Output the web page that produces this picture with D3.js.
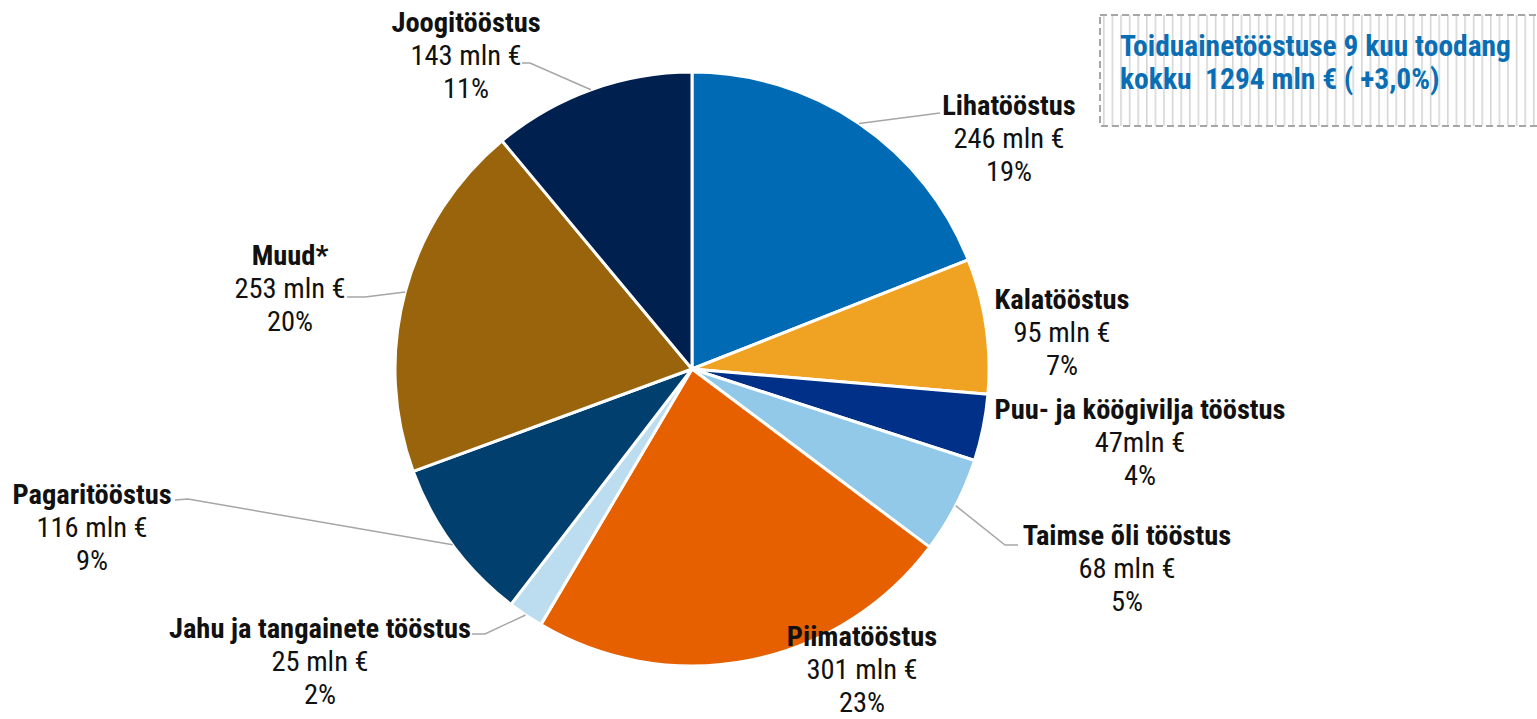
<!DOCTYPE html>
<html>
<head>
<meta charset="utf-8">
<script src="https://cdn.jsdelivr.net/npm/d3@7"></script>
<style>
  body { margin: 0; background: #fff; }
  text { font-family: "Roboto Condensed", Roboto, sans-serif; fill: #111; }
</style>
</head>
<body>
<script>
// data
var names = ["Lihatööstus", "Kalatööstus", "Puu- ja köögivilja tööstus", "Taimse õli tööstus",
             "Piimatööstus", "Jahu ja tangainete tööstus", "Pagaritööstus", "Muud*", "Joogitööstus"];
var values = [246, 95, 47, 68, 301, 25, 116, 253, 143];
var valueLabels = ["246 mln €", "95 mln €", "47mln €", "68 mln €", "301 mln €", "25 mln €", "116 mln €", "253 mln €", "143 mln €"];
var pctLabels = ["19%", "7%", "4%", "5%", "23%", "2%", "9%", "20%", "11%"];
var colors = ["#006bb4", "#f0a323", "#003087", "#93c9e8", "#e66000", "#bcdcf0", "#003f6e", "#9a640c", "#00204f"];
var titleLines = ["Toiduainetööstuse 9 kuu toodang", "kokku  1294 mln € ( +3,0%)"];

// label layout: [center x, first baseline y], leader: elbow points (null = no leader)
var labelPos = [[1009, 115], [1062, 309], [1140, 419], [1127, 545], [862, 646], [320, 638], [92, 504], [290, 265], [466, 32]];
var leaders = [[[940, 113]], null, null, [[1005, 545], [1018, 545]], null, [[485, 634], [472, 634]],
               [[188, 499], [175, 500]], [[365, 297], [347, 297]], [[530, 63], [522, 63]]];

var W = 1537, H = 719;
var cx = 692, cy = 369, r = 297;

var svg = d3.select("body").append("svg").attr("width", W).attr("height", H);

var pie = d3.pie().sort(null).value(function(d) { return d; });
var arcs = pie(values);
var arc = d3.arc().innerRadius(0).outerRadius(r);

var g = svg.append("g").attr("transform", "translate(" + cx + "," + cy + ")");
g.selectAll("path").data(arcs).enter().append("path")
  .attr("d", arc)
  .attr("fill", function(d, i) { return colors[i]; })
  .attr("stroke", "#fff")
  .attr("stroke-width", 3)
  .attr("stroke-linejoin", "round");

// leader lines
arcs.forEach(function(a, i) {
  if (!leaders[i]) return;
  var mid = (a.startAngle + a.endAngle) / 2;
  var p0 = [cx + Math.sin(mid) * r, cy - Math.cos(mid) * r];
  var pts = [p0].concat(leaders[i]);
  svg.append("path")
    .attr("d", d3.line()(pts))
    .attr("fill", "none")
    .attr("stroke", "#a6a6a6")
    .attr("stroke-width", 1.5);
});

// labels
names.forEach(function(n, i) {
  var t = svg.append("text")
    .attr("text-anchor", "middle")
    .attr("transform", "translate(" + labelPos[i][0] + "," + labelPos[i][1] + ")")
    .style("font-size", "28.5px");
  t.append("tspan").attr("x", 0).attr("y", 0).style("font-weight", "bold").text(n);
  t.append("tspan").attr("x", 0).attr("y", 33).text(valueLabels[i]);
  t.append("tspan").attr("x", 0).attr("y", 66).text(pctLabels[i]);
});

// title box with stripes
var defs = svg.append("defs");
var pat = defs.append("pattern").attr("id", "stripes")
  .attr("patternUnits", "userSpaceOnUse").attr("width", 8.6).attr("height", 10)
  .attr("x", 1103);
pat.append("rect").attr("x", 0).attr("y", 0).attr("width", 1.6).attr("height", 10).attr("fill", "#d6d6d6");

svg.append("rect")
  .attr("x", 1100).attr("y", 15).attr("width", 460).attr("height", 111)
  .attr("fill", "url(#stripes)")
  .attr("stroke", "#a6a6a6").attr("stroke-width", 2)
  .attr("stroke-dasharray", "7,4");

var tt = svg.append("text").attr("x", 1120).attr("y", 56)
  .style("font-size", "29.5px").style("font-weight", "bold").style("fill", "#0a6eb4");
titleLines.forEach(function(l, i) {
  tt.append("tspan").attr("x", 1120).attr("y", 56 + i * 33).attr("xml:space", "preserve").text(l);
});
</script>
</body>
</html>
